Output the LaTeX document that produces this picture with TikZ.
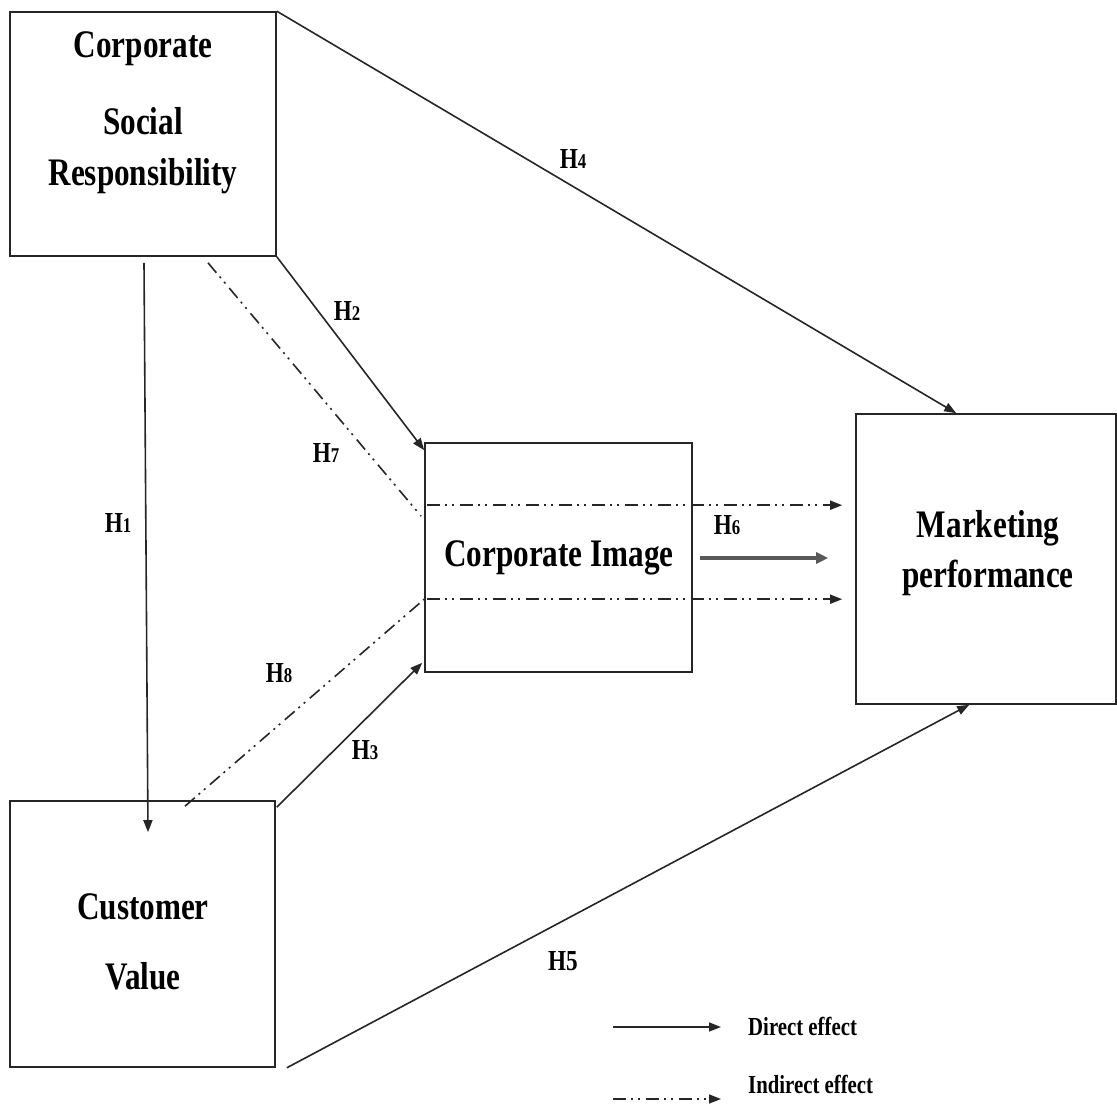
\documentclass[tikz,border=0pt]{standalone}
\usepackage{fontspec}
\setmainfont{Liberation Serif}[FakeStretch=0.8]
\usetikzlibrary{arrows.meta,calc}
\newcommand\hypo[1]{H{\fontsize{21}{21}\selectfont #1}}
\begin{document}
\begin{tikzpicture}[x=1pt,y=-1pt,
  box/.style={draw=black!85, line width=1.6pt, inner sep=0pt},
  tip/.style={-{Triangle[length=12pt,width=9pt]}},
  direct/.style={draw=black!85, line width=1.6pt, tip},
  indirectline/.style={draw=black!85, line width=1.6pt, dash pattern=on 13pt off 5pt on 2pt off 5pt on 2pt off 6pt},
  indirect/.style={indirectline, tip},
  maintext/.style={font=\fontsize{39}{39}\selectfont\bfseries, inner sep=0pt, anchor=base},
  lbl/.style={font=\fontsize{29}{29}\selectfont\bfseries, inner sep=0pt, anchor=base},
  legtext/.style={font=\fontsize{26}{26}\selectfont\bfseries, inner sep=0pt, anchor=base west}]
\useasboundingbox (0,0) rectangle (1117,1107);

% boxes
\node[box, minimum width=266pt, minimum height=244pt] (csr) at (143,134) {};
\node[box, minimum width=267pt, minimum height=229pt] (ci) at (558.5,557.5) {};
\node[box, minimum width=265pt, minimum height=266pt] (cv) at (142.5,934) {};
\node[box, minimum width=260pt, minimum height=290pt] (mp) at (986,559) {};

% box texts
\node[maintext] (csr1) at (143,58) {Corporate};
\node[maintext] (csr2) at (143,135) {Social};
\node[maintext] (csr3) at (143,186) {Responsibility};
\node[maintext] (ci1) at (559,566) {Corporate Image};
\node[maintext] (cv1) at (143,919) {Customer};
\node[maintext] (cv2) at (143,989) {Value};
\node[maintext] (mp1) at (988,537) {Marketing};
\node[maintext] (mp2) at (988,587) {performance};

% helper coordinates
\coordinate (h1s) at ($(csr.south)+(1,6)$);
\coordinate (h1e) at ($(cv.north)+(5.5,32)$);
\coordinate (h2e) at ($(ci.north west)+(0,8)$);
\coordinate (h3s) at ($(cv.north east)+(1,7)$);
\coordinate (h3e) at ($(ci.south west)+(-2,-10)$);
\coordinate (h4e) at ($(mp.north west)+(101,0)$);
\coordinate (h5s) at ($(cv.south east)+(11,0)$);
\coordinate (h5e) at ($(mp.south west)+(114,0)$);
\coordinate (h6s) at (700,558);
\coordinate (h6e) at ($(mp.west)+(-27,-1)$);
\coordinate (h7s) at ($(csr.south)+(65,6)$);
\coordinate (h7e) at ($(ci.north west)+(-3,74)$);
\coordinate (h7a) at ($(ci.north west)+(3,63)$);
\coordinate (h7b) at ($(mp.north west)+(-13,92)$);
\coordinate (h8s) at ($(cv.north)+(42.5,6)$);
\coordinate (h8e) at ($(ci.north west)+(0,157)$);
\coordinate (h8a) at ($(ci.north west)+(3,157)$);
\coordinate (h8b) at ($(mp.north west)+(-13,186)$);

% connectors
\draw[direct] (h1s) -- (h1e);
\draw[direct] (csr.south east) -- (h2e);
\draw[direct] (h3s) -- (h3e);
\draw[direct] (csr.north east) -- (h4e);
\draw[direct] (h5s) -- (h5e);
\draw[draw=black!65, line width=3.2pt, -{Triangle[length=12pt,width=11pt]}] (h6s) -- (h6e);
\draw[indirectline] (h7s) -- (h7e);
\draw[indirect] (h7a) -- (h7b);
\draw[indirectline] (h8s) -- (h8e);
\draw[indirect] (h8a) -- (h8b);

% labels
\node[lbl] (l1) at (118,532) {\hypo{1}};
\node[lbl] (l2) at (347,321) {\hypo{2}};
\node[lbl] (l3) at (365,759) {\hypo{3}};
\node[lbl] (l4) at (573,169) {\hypo{4}};
\node[lbl] (l5) at (563,970) {H5};
\node[lbl] (l6) at (727,534) {\hypo{6}};
\node[lbl] (l7) at (326,462) {\hypo{7}};
\node[lbl] (l8) at (279,682) {\hypo{8}};

% legend
\coordinate (ld1) at (613,1027);
\coordinate (ld2) at (721,1027);
\coordinate (li1) at (613,1099);
\coordinate (li2) at (721,1099);
\draw[direct] (ld1) -- (ld2);
\draw[indirect] (li1) -- (li2);
\node[legtext] (lgd) at (748,1035) {Direct effect};
\node[legtext] (lgi) at (748,1093) {Indirect effect};
\end{tikzpicture}
\end{document}
